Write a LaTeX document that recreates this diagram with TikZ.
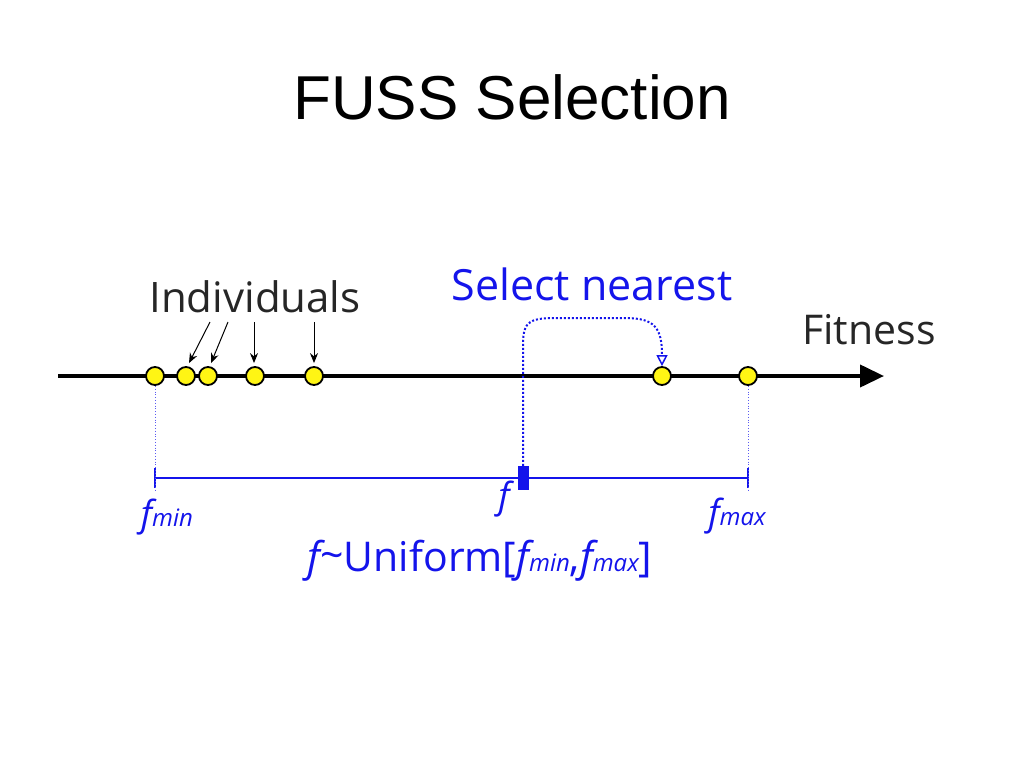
\documentclass[tikz,border=0pt]{standalone}
\usepackage{fontspec}
\setmainfont{Liberation Sans}
\newfontfamily\lab{Open Sans}
\usetikzlibrary{arrows.meta}
\definecolor{selblue}{RGB}{20,20,235}
\definecolor{indyel}{RGB}{255,245,20}
\newcommand{\fsubx}[1]{{\itshape f}{\itshape\fontsize{24}{24}\selectfont #1}}
\begin{document}
\begin{tikzpicture}[x=1pt,y=-1pt,
  ind/.style={circle,draw=black,line width=1.8pt,fill=indyel,minimum size=18pt,inner sep=0pt},
  ptr/.style={-{Stealth[length=10pt,width=8pt]},line width=1pt,black},
  bluetxt/.style={text=selblue,font=\lab\fontsize{36}{36}\selectfont,inner sep=0pt},
  guide/.style={selblue!70,dotted,line width=0.8pt}]
\useasboundingbox (0,0) rectangle (1024,768);
% title
\node (title) at (512,97) {\fontsize{62}{62}\selectfont FUSS Selection};
% axis
\coordinate (ax0) at (58,376);
\coordinate (ax1) at (884,376);
\draw[line width=4pt,-{Triangle[length=24pt,width=22pt]}] (ax0) -- (ax1);
% individuals
\node[ind] (c1) at (155,376) {};
\node[ind] (c2) at (186,376) {};
\node[ind] (c3) at (208,376) {};
\node[ind] (c4) at (255,376) {};
\node[ind] (c5) at (314,376) {};
\node[ind] (c6) at (662,376) {};
\node[ind] (c7) at (748,376) {};
% labels
\node[inner sep=0pt,text=black!85] (indlab) at (255,297) {\lab\fontsize{42}{42}\selectfont Individuals};
\node[inner sep=0pt,text=black!85] (fitlab) at (869,330) {\lab\fontsize{41}{41}\selectfont Fitness};
\node[bluetxt,font=\lab\fontsize{43}{43}\selectfont] (sellab) at (592,284) {Select nearest};
% pointer arrows
\coordinate (p2) at (210,322);
\coordinate (p3) at (228,322);
\coordinate (p4) at (254,322);
\coordinate (p5) at (314,322);
\draw[ptr] (p2) -- ([shift={(3,-3)}]c2.north);
\draw[ptr] (p3) -- ([shift={(3,-3)}]c3.north);
\draw[ptr] (p4) -- ([shift={(-1,-3)}]c4.north);
\draw[ptr] (p5) -- ([shift={(0,-3)}]c5.north);
% range line
\coordinate (t1) at (155,478);
\coordinate (t2) at (748,478);
\draw[selblue,line width=2pt] (t1) -- (t2);
\draw[selblue,line width=2pt] ([yshift=-10]t1) -- ([yshift=10]t1);
\draw[selblue,line width=2pt] ([yshift=-10]t2) -- ([yshift=10]t2);
\draw[guide] (c1.south) -- ([yshift=-12]t1);
\draw[guide] (c7.south) -- ([yshift=-12]t2);
% sampled f
\node[fill=selblue,minimum width=11pt,minimum height=24pt,inner sep=0pt] (fr) at (523,478) {};
\draw[selblue,dotted,line width=2pt,-{Triangle[open,length=11pt,width=11pt,line width=1.5pt]}]
  (fr.north) -- (523,345) .. controls (523,320) and (530,318) .. (560,318)
  -- (625,318) .. controls (655,318) and (662,328) .. (c6.north);
% labels under
\node[bluetxt] (flab) at (504,499) {\itshape f};
\node[bluetxt] (fminlab) at (167,517) {\fsubx{min}};
\node[bluetxt] (fmaxlab) at (737,516) {\fsubx{max}};
\node[bluetxt,font=\lab\fontsize{41}{41}\selectfont] (unif) at (480,561)
  {{\itshape f}\raisebox{2pt}{\char`\~}Uniform[\fsubx{min},\fsubx{max}]};
\end{tikzpicture}
\end{document}
